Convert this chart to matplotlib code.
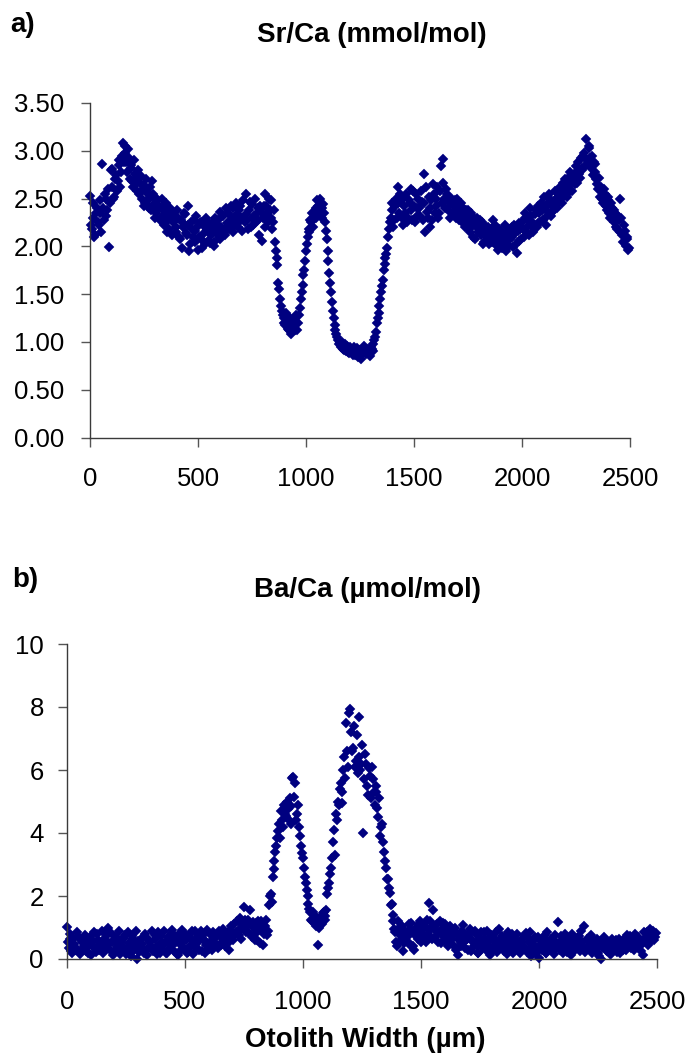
import matplotlib
matplotlib.use("Agg")
import matplotlib.pyplot as plt
from matplotlib.ticker import FormatStrFormatter

plt.rcParams['font.family'] = ['Liberation Sans', 'DejaVu Sans']

# sampling positions along the otolith transect (µm), first pass
width_um = [
    0, 8, 16, 24, 32, 40, 48, 56, 64, 72,
    80, 88, 96, 104, 112, 120, 128, 136, 144, 152,
    160, 168, 176, 184, 192, 200, 208, 216, 224, 232,
    240, 248, 256, 264, 272, 280, 288, 296, 304, 312,
    320, 328, 336, 344, 352, 360, 368, 376, 384, 392,
    400, 408, 416, 424, 432, 440, 448, 456, 464, 472,
    480, 488, 496, 504, 512, 520, 528, 536, 544, 552,
    560, 568, 576, 584, 592, 600, 608, 616, 624, 632,
    640, 648, 656, 664, 672, 680, 688, 696, 704, 712,
    720, 728, 736, 744, 752, 760, 768, 776, 784, 792,
    800, 808, 816, 824, 832, 840, 848, 856, 864, 872,
    880, 888, 896, 904, 912, 920, 928, 936, 944, 952,
    960, 968, 976, 984, 992, 1000, 1008, 1016, 1024, 1032,
    1040, 1048, 1056, 1064, 1072, 1080, 1088, 1096, 1104, 1112,
    1120, 1128, 1136, 1144, 1152, 1160, 1168, 1176, 1184, 1192,
    1200, 1208, 1216, 1224, 1232, 1240, 1248, 1256, 1264, 1272,
    1280, 1288, 1296, 1304, 1312, 1320, 1328, 1336, 1344, 1352,
    1360, 1368, 1376, 1384, 1392, 1400, 1408, 1416, 1424, 1432,
    1440, 1448, 1456, 1464, 1472, 1480, 1488, 1496, 1504, 1512,
    1520, 1528, 1536, 1544, 1552, 1560, 1568, 1576, 1584, 1592,
    1600, 1608, 1616, 1624, 1632, 1640, 1648, 1656, 1664, 1672,
    1680, 1688, 1696, 1704, 1712, 1720, 1728, 1736, 1744, 1752,
    1760, 1768, 1776, 1784, 1792, 1800, 1808, 1816, 1824, 1832,
    1840, 1848, 1856, 1864, 1872, 1880, 1888, 1896, 1904, 1912,
    1920, 1928, 1936, 1944, 1952, 1960, 1968, 1976, 1984, 1992,
    2000, 2008, 2016, 2024, 2032, 2040, 2048, 2056, 2064, 2072,
    2080, 2088, 2096, 2104, 2112, 2120, 2128, 2136, 2144, 2152,
    2160, 2168, 2176, 2184, 2192, 2200, 2208, 2216, 2224, 2232,
    2240, 2248, 2256, 2264, 2272, 2280, 2288, 2296, 2304, 2312,
    2320, 2328, 2336, 2344, 2352, 2360, 2368, 2376, 2384, 2392,
    2400, 2408, 2416, 2424, 2432, 2440, 2448, 2456, 2464, 2472,
    2480, 2488, 2496,
]

# second pass of ablation spots, shifted half a step
width_um_2 = [
    4, 12, 20, 28, 36, 44, 52, 60, 68, 76,
    84, 92, 100, 108, 116, 124, 132, 140, 148, 156,
    164, 172, 180, 188, 196, 204, 212, 220, 228, 236,
    244, 252, 260, 268, 276, 284, 292, 300, 308, 316,
    324, 332, 340, 348, 356, 364, 372, 380, 388, 396,
    404, 412, 420, 428, 436, 444, 452, 460, 468, 476,
    484, 492, 500, 508, 516, 524, 532, 540, 548, 556,
    564, 572, 580, 588, 596, 604, 612, 620, 628, 636,
    644, 652, 660, 668, 676, 684, 692, 700, 708, 716,
    724, 732, 740, 748, 756, 764, 772, 780, 788, 796,
    804, 812, 820, 828, 836, 844, 852, 860, 868, 876,
    884, 892, 900, 908, 916, 924, 932, 940, 948, 956,
    964, 972, 980, 988, 996, 1004, 1012, 1020, 1028, 1036,
    1044, 1052, 1060, 1068, 1076, 1084, 1092, 1100, 1108, 1116,
    1124, 1132, 1140, 1148, 1156, 1164, 1172, 1180, 1188, 1196,
    1204, 1212, 1220, 1228, 1236, 1244, 1252, 1260, 1268, 1276,
    1284, 1292, 1300, 1308, 1316, 1324, 1332, 1340, 1348, 1356,
    1364, 1372, 1380, 1388, 1396, 1404, 1412, 1420, 1428, 1436,
    1444, 1452, 1460, 1468, 1476, 1484, 1492, 1500, 1508, 1516,
    1524, 1532, 1540, 1548, 1556, 1564, 1572, 1580, 1588, 1596,
    1604, 1612, 1620, 1628, 1636, 1644, 1652, 1660, 1668, 1676,
    1684, 1692, 1700, 1708, 1716, 1724, 1732, 1740, 1748, 1756,
    1764, 1772, 1780, 1788, 1796, 1804, 1812, 1820, 1828, 1836,
    1844, 1852, 1860, 1868, 1876, 1884, 1892, 1900, 1908, 1916,
    1924, 1932, 1940, 1948, 1956, 1964, 1972, 1980, 1988, 1996,
    2004, 2012, 2020, 2028, 2036, 2044, 2052, 2060, 2068, 2076,
    2084, 2092, 2100, 2108, 2116, 2124, 2132, 2140, 2148, 2156,
    2164, 2172, 2180, 2188, 2196, 2204, 2212, 2220, 2228, 2236,
    2244, 2252, 2260, 2268, 2276, 2284, 2292, 2300, 2308, 2316,
    2324, 2332, 2340, 2348, 2356, 2364, 2372, 2380, 2388, 2396,
    2404, 2412, 2420, 2428, 2436, 2444, 2452, 2460, 2468, 2476,
    2484, 2492,
]

# Sr/Ca (mmol/mol), first pass
sr_ca = [
    2.53, 2.18, 2.30, 2.12, 2.40, 2.22, 2.35, 2.86, 2.28, 2.50,
    2.38, 1.99, 2.80, 2.62, 2.52, 2.75, 2.68, 2.90, 2.78, 3.08,
    2.98, 2.88, 3.02, 2.70, 2.82, 2.62, 2.76, 2.58, 2.72, 2.66,
    2.50, 2.64, 2.45, 2.56, 2.40, 2.52, 2.68, 2.44, 2.35, 2.48,
    2.42, 2.30, 2.38, 2.22, 2.45, 2.28, 2.18, 2.36, 2.25, 2.32,
    2.15, 2.30, 2.08, 2.26, 2.20, 2.34, 2.12, 2.22, 2.02, 2.18,
    2.28, 2.05, 2.20, 2.10, 2.25, 1.98, 2.14, 2.30, 2.06, 2.18,
    2.12, 2.26, 2.00, 2.15, 2.28, 2.08, 2.20, 2.32, 2.12, 2.24,
    2.35, 2.18, 2.30, 2.40, 2.22, 2.34, 2.26, 2.42, 2.16, 2.30,
    2.55, 2.28, 2.38, 2.20, 2.44, 2.32, 2.26, 2.40, 2.12, 2.36,
    2.30, 2.55, 2.42, 2.25, 2.38, 2.48, 2.25, 2.05, 1.80, 1.62,
    1.45, 1.32, 1.25, 1.18, 1.22, 1.12, 1.18, 1.10, 1.15, 1.20,
    1.13, 1.28, 1.45, 1.60, 1.75, 1.95, 2.10, 2.18, 2.25, 2.20,
    2.35, 2.30, 2.42, 2.50, 2.40, 2.44, 2.25, 2.08, 1.85, 1.62,
    1.42, 1.25, 1.12, 1.05, 0.98, 0.95, 1.00, 0.92, 0.90, 0.96,
    0.88, 0.93, 0.86, 0.95, 0.90, 0.84, 0.92, 0.82, 0.88, 0.94,
    0.87, 0.91, 0.85, 0.93, 0.98, 1.05, 1.20, 1.30, 1.45, 1.58,
    1.75, 1.88, 1.98, 2.18, 2.30, 2.45, 2.28, 2.50, 2.62, 2.35,
    2.48, 2.22, 2.42, 2.55, 2.30, 2.45, 2.38, 2.58, 2.25, 2.40,
    2.50, 2.32, 2.46, 2.76, 2.15, 2.36, 2.52, 2.40, 2.28, 2.55,
    2.42, 2.62, 2.35, 2.84, 2.91, 2.50, 2.60, 2.38, 2.52, 2.44,
    2.34, 2.48, 2.30, 2.42, 2.35, 2.25, 2.40, 2.20, 2.32, 2.38,
    2.15, 2.28, 2.22, 2.08, 2.30, 2.18, 2.12, 2.25, 2.05, 2.20,
    2.10, 2.02, 2.18, 2.28, 2.08, 2.14, 1.96, 2.10, 2.16, 2.04,
    2.22, 1.95, 2.12, 2.08, 2.20, 1.99, 2.14, 1.93, 2.06, 2.18,
    2.25, 2.10, 2.30, 2.20, 2.12, 2.32, 2.26, 2.18, 2.38, 2.24,
    2.35, 2.45, 2.28, 2.40, 2.22, 2.36, 2.50, 2.32, 2.46, 2.58,
    2.40, 2.52, 2.62, 2.45, 2.56, 2.70, 2.52, 2.64, 2.78, 2.58,
    2.72, 2.84, 2.66, 2.76, 2.92, 2.80, 2.98, 3.12, 2.88, 3.03,
    2.82, 2.75, 2.86, 2.70, 2.60, 2.52, 2.62, 2.45, 2.55, 2.38,
    2.48, 2.30, 2.40, 2.25, 2.35, 2.18, 2.28, 2.50, 2.12, 2.22,
    2.00, 2.08, 1.98,
]

# Sr/Ca (mmol/mol), second pass
sr_ca_2 = [
    2.22, 2.45, 2.10, 2.35, 2.25, 2.48, 2.15, 2.40, 2.55, 2.32,
    2.60, 2.45, 2.81, 2.50, 2.70, 2.58, 2.85, 2.62, 2.95, 2.88,
    3.05, 2.78, 2.92, 2.85, 2.68, 2.90, 2.65, 2.80, 2.55, 2.74,
    2.60, 2.42, 2.70, 2.48, 2.62, 2.38, 2.55, 2.30, 2.50, 2.40,
    2.28, 2.50, 2.32, 2.42, 2.15, 2.35, 2.40, 2.12, 2.30, 2.20,
    2.38, 2.10, 2.28, 1.98, 2.35, 2.14, 2.42, 1.95, 2.25, 2.10,
    2.16, 2.32, 1.96, 2.24, 2.08, 2.22, 2.02, 2.18, 2.26, 2.04,
    2.20, 2.05, 2.30, 2.22, 2.10, 2.36, 2.18, 2.14, 2.40, 2.20,
    2.25, 2.42, 2.15, 2.28, 2.45, 2.20, 2.38, 2.30, 2.48, 2.26,
    2.34, 2.18, 2.46, 2.30, 2.22, 2.50, 2.35, 2.28, 2.42, 2.06,
    2.42, 2.20, 2.35, 2.50, 2.30, 2.18, 2.38, 1.95, 1.88, 1.55,
    1.38, 1.28, 1.20, 1.30, 1.14, 1.25, 1.08, 1.22, 1.12, 1.28,
    1.20, 1.36, 1.52, 1.70, 1.85, 2.02, 2.15, 2.28, 2.35, 2.30,
    2.40, 2.48, 2.36, 2.45, 2.30, 2.35, 2.16, 1.95, 1.72, 1.52,
    1.32, 1.18, 1.08, 1.02, 1.00, 0.97, 0.93, 0.98, 0.94, 0.89,
    0.95, 0.90, 0.92, 0.86, 0.94, 0.89, 0.86, 0.90, 0.96, 0.89,
    0.93, 0.88, 0.95, 0.90, 1.02, 1.10, 1.25, 1.38, 1.52, 1.65,
    1.82, 1.92, 2.10, 2.25, 2.38, 2.20, 2.42, 2.30, 2.45, 2.55,
    2.30, 2.52, 2.35, 2.25, 2.48, 2.60, 2.28, 2.42, 2.55, 2.32,
    2.40, 2.58, 2.28, 2.45, 2.62, 2.30, 2.20, 2.48, 2.65, 2.35,
    2.50, 2.30, 2.58, 2.45, 2.66, 2.40, 2.55, 2.46, 2.30, 2.50,
    2.42, 2.36, 2.50, 2.28, 2.45, 2.32, 2.30, 2.38, 2.25, 2.18,
    2.35, 2.10, 2.30, 2.25, 2.15, 2.28, 2.20, 2.02, 2.15, 2.12,
    2.20, 2.15, 2.05, 2.12, 2.22, 2.00, 2.18, 2.06, 1.98, 2.12,
    2.05, 2.15, 2.00, 2.18, 2.10, 2.22, 2.02, 2.16, 2.24, 2.08,
    2.18, 2.35, 2.15, 2.28, 2.40, 2.22, 2.15, 2.34, 2.20, 2.42,
    2.25, 2.38, 2.52, 2.30, 2.44, 2.55, 2.35, 2.42, 2.38, 2.50,
    2.58, 2.46, 2.50, 2.66, 2.55, 2.60, 2.72, 2.58, 2.68, 2.74,
    2.65, 2.78, 2.88, 2.72, 2.82, 2.95, 2.84, 2.90, 3.05, 2.92,
    2.95, 2.88, 2.78, 2.65, 2.72, 2.58, 2.50, 2.60, 2.42, 2.52,
    2.35, 2.45, 2.28, 2.38, 2.20, 2.32, 2.15, 2.30, 2.05, 2.16,
    2.10, 1.96,
]

# Ba/Ca (µmol/mol), first pass
ba_ca = [
    1.03, 0.35, 0.62, 0.20, 0.48, 0.30, 0.72, 0.15, 0.55, 0.40,
    0.25, 0.68, 0.45, 0.12, 0.58, 0.35, 0.80, 0.28, 0.50, 0.18,
    0.62, 0.40, 0.97, 0.30, 0.55, 0.22, 0.70, 0.45, 0.15, 0.60,
    0.38, 0.75, 0.25, 0.52, 0.10, 0.65, 0.42, 0.00, 0.58, 0.30,
    0.48, 0.20, 0.70, 0.35, 0.55, 0.90, 0.28, 0.62, 0.15, 0.45,
    0.72, 0.30, 0.52, 0.18, 0.65, 0.40, 0.82, 0.25, 0.55, 0.12,
    0.48, 0.92, 0.35, 0.60, 0.22, 0.70, 0.42, 0.15, 0.88, 0.50,
    0.30, 0.90, 0.62, 0.20, 0.55, 0.40, 0.78, 0.28, 0.65, 0.48,
    0.35, 0.72, 0.55, 0.85, 0.42, 0.68, 0.30, 1.05, 0.60, 0.80,
    1.20, 0.75, 0.95, 1.10, 1.66, 0.85, 1.25, 1.56, 0.70, 1.00,
    1.15, 0.60, 0.95, 1.22, 0.45, 1.05, 0.75, 1.70, 2.05, 2.60,
    3.10, 3.60, 4.05, 3.85, 4.40, 4.90, 4.55, 4.75, 5.10, 4.30,
    5.79, 5.60, 4.60, 4.20, 3.60, 3.20, 2.60, 2.20, 1.75, 1.50,
    1.20, 1.40, 1.05, 0.45, 1.30, 1.10, 1.50, 1.35, 2.05, 2.40,
    2.90, 3.70, 3.30, 4.40, 4.90, 5.60, 5.30, 6.40, 7.50, 6.10,
    7.94, 6.60, 7.40, 6.30, 5.90, 7.67, 6.20, 4.00, 6.50, 5.50,
    6.05, 5.10, 5.70, 4.90, 5.30, 4.50, 3.90, 4.30, 3.40, 2.90,
    2.55, 2.10, 1.75, 1.20, 0.85, 0.40, 1.00, 0.60, 0.25, 0.90,
    0.70, 1.10, 0.45, 0.85, 0.30, 1.00, 0.65, 1.20, 0.80, 1.05,
    0.55, 1.25, 1.79, 0.95, 1.56, 0.70, 1.10, 0.85, 0.50, 1.15,
    0.75, 0.95, 0.40, 1.05, 0.65, 0.85, 0.30, 0.13, 0.70, 0.50,
    1.08, 0.35, 0.62, 0.80, 0.25, 0.55, 0.90, 0.42, 0.20, 0.68,
    0.48, 0.85, 0.30, 0.58, 0.12, 0.72, 0.40, 0.62, 0.22, 0.95,
    0.50, 0.35, 0.70, 0.15, 0.55, 0.42, 0.78, 0.28, 0.60, 0.45,
    0.18, 0.65, 0.38, 0.82, 0.25, 0.55, 0.10, 0.48, 0.70, 0.32,
    0.02, 0.58, 0.40, 0.75, 0.20, 0.52, 0.35, 0.65, 0.15, 0.45,
    1.16, 0.28, 0.60, 0.38, 0.80, 0.22, 0.50, 0.12, 0.62, 0.35,
    0.48, 0.72, 0.25, 0.55, 1.05, 0.30, 0.65, 0.42, 0.18, 0.58,
    0.32, 0.48, 0.10, 0.00, 0.40, 0.62, 0.25, 0.50, 0.15, 0.45,
    0.28, 0.60, 0.38, 0.20, 0.52, 0.65, 0.30, 0.45, 0.72, 0.35,
    0.58, 0.80, 0.42, 0.62, 0.25, 0.13, 0.68, 0.85, 0.50, 0.95,
    0.72, 0.60, 0.82,
]

# Ba/Ca (µmol/mol), second pass
ba_ca_2 = [
    0.55, 0.80, 0.25, 0.65, 0.38, 0.85, 0.22, 0.60, 0.32, 0.75,
    0.45, 0.18, 0.70, 0.40, 0.85, 0.22, 0.60, 0.48, 0.90, 0.35,
    0.28, 0.75, 0.50, 0.82, 0.12, 0.62, 0.38, 0.90, 0.55, 0.25,
    0.68, 0.15, 0.85, 0.45, 0.72, 0.30, 0.90, 0.48, 0.22, 0.65,
    0.32, 0.78, 0.12, 0.58, 0.42, 0.25, 0.75, 0.38, 0.85, 0.20,
    0.55, 0.88, 0.20, 0.70, 0.35, 0.92, 0.48, 0.62, 0.15, 0.80,
    0.30, 0.65, 0.80, 0.20, 0.75, 0.40, 0.90, 0.58, 0.35, 0.72,
    0.65, 0.25, 0.80, 0.45, 0.92, 0.32, 0.58, 0.85, 0.40, 0.75,
    0.88, 0.45, 0.95, 0.62, 0.80, 0.50, 0.92, 0.70, 1.10, 0.85,
    0.90, 1.30, 0.65, 1.05, 1.24, 0.90, 1.10, 0.75, 1.18, 0.60,
    0.85, 1.20, 0.50, 1.00, 0.80, 1.24, 0.90, 2.00, 1.80, 2.85,
    3.40, 3.85, 4.30, 4.70, 4.20, 4.60, 5.00, 4.40, 4.85, 5.75,
    5.15, 4.40, 4.90, 3.90, 3.35, 2.90, 2.40, 2.00, 1.60, 1.25,
    1.50, 1.15, 1.30, 1.00, 1.20, 1.45, 1.25, 1.55, 2.25, 2.70,
    3.20, 4.10, 4.60, 5.00, 5.40, 4.95, 6.00, 5.75, 6.60, 7.80,
    7.20, 6.70, 6.10, 7.10, 6.40, 6.00, 6.80, 5.70, 6.20, 5.20,
    5.80, 6.10, 5.30, 5.50, 4.80, 5.10, 4.20, 3.70, 3.10, 2.55,
    2.25, 1.70, 1.40, 0.95, 0.55, 1.20, 0.75, 1.05, 0.50, 0.80,
    0.55, 0.95, 1.15, 0.40, 0.75, 0.90, 1.10, 0.55, 0.95, 0.70,
    1.00, 0.80, 1.20, 0.62, 1.05, 0.90, 0.55, 1.20, 0.95, 0.70,
    1.10, 0.55, 0.88, 0.72, 0.45, 1.00, 0.80, 0.60, 0.40, 0.90,
    0.55, 0.75, 0.30, 0.95, 0.60, 0.40, 0.78, 0.18, 0.58, 0.85,
    0.35, 0.62, 0.90, 0.42, 0.75, 0.28, 0.55, 0.85, 0.38, 0.60,
    0.72, 0.25, 0.55, 0.85, 0.35, 0.68, 0.20, 0.50, 0.80, 0.30,
    0.55, 0.40, 0.75, 0.22, 0.62, 0.85, 0.35, 0.60, 0.18, 0.70,
    0.45, 0.30, 0.68, 0.20, 0.85, 0.40, 0.62, 0.25, 0.75, 0.52,
    0.38, 0.72, 0.18, 0.55, 0.30, 0.68, 0.42, 0.80, 0.25, 0.60,
    0.35, 0.58, 0.88, 0.40, 0.22, 0.62, 0.45, 0.75, 0.30, 0.52,
    0.65, 0.20, 0.55, 0.38, 0.70, 0.28, 0.45, 0.15, 0.62, 0.35,
    0.50, 0.22, 0.65, 0.42, 0.30, 0.58, 0.75, 0.40, 0.55, 0.62,
    0.30, 0.48, 0.70, 0.40, 0.55, 0.85, 0.62, 0.45, 0.78, 0.58,
    0.88, 0.70,
]

x_ticks = [0, 500, 1000, 1500, 2000, 2500]
sr_ticks = [0.0, 0.5, 1.0, 1.5, 2.0, 2.5, 3.0, 3.5]
ba_ticks = [0, 2, 4, 6, 8, 10]

W, H = 691, 1061
fig = plt.figure(figsize=(W / 100, H / 100), dpi=100)

NAVY = '#000080'
SPINE = '#3a3a3a'
MS = 4.6


def style(ax):
    for s in ('top', 'right'):
        ax.spines[s].set_visible(False)
    for s in ('left', 'bottom'):
        ax.spines[s].set_color(SPINE)
        ax.spines[s].set_linewidth(1.0)
    ax.tick_params(axis='both', direction='out', length=6.5, width=1.0,
                   color='#555555', labelsize=18.5, labelcolor='black')


# panel a
axa = fig.add_axes([90 / W, 1 - 437.5 / H, 540 / W, 334.5 / H])
for xs, ys in ((width_um, sr_ca), (width_um_2, sr_ca_2)):
    axa.plot(xs, ys, linestyle='none', marker='D', ms=MS, mew=0.3,
             color=NAVY, clip_on=False)
axa.set_xlim(0, 2500)
axa.set_ylim(0, 3.5)
axa.set_xticks(x_ticks)
axa.set_yticks(sr_ticks)
axa.yaxis.set_major_formatter(FormatStrFormatter('%.2f'))
style(axa)
axa.tick_params(axis='x', pad=15)
axa.tick_params(axis='y', pad=12)

# panel b
axb = fig.add_axes([66.7 / W, 1 - 959 / H, 590.3 / W, 315 / H])
for xs, ys in ((width_um, ba_ca), (width_um_2, ba_ca_2)):
    axb.plot(xs, ys, linestyle='none', marker='D', ms=MS, mew=0.3,
             color=NAVY, clip_on=False)
axb.set_xlim(0, 2500)
axb.set_ylim(0, 10)
axb.set_xticks(x_ticks)
axb.set_yticks(ba_ticks)
style(axb)
axb.tick_params(axis='x', pad=16)
axb.tick_params(axis='y', pad=10)

# texts
fig.text(10 / W, 1 - 25 / H, 'a)', fontsize=20, fontweight='bold',
         family=['Liberation Sans Narrow', 'Liberation Sans'], ha='left', va='center')
fig.text(372 / W, 1 - 35 / H, 'Sr/Ca (mmol/mol)', fontsize=20, fontweight='bold',
         ha='center', va='center')
fig.text(12 / W, 1 - 580 / H, 'b)', fontsize=20, fontweight='bold',
         family=['Liberation Sans Narrow', 'Liberation Sans'], ha='left', va='center')
fig.text(368 / W, 1 - 590 / H, 'Ba/Ca (µmol/mol)', fontsize=20, fontweight='bold',
         ha='center', va='center')
fig.text(365 / W, 1 - 1040 / H, 'Otolith Width (µm)', fontsize=20, fontweight='bold',
         ha='center', va='center')

fig.savefig('out.png', dpi=100, facecolor='white')
